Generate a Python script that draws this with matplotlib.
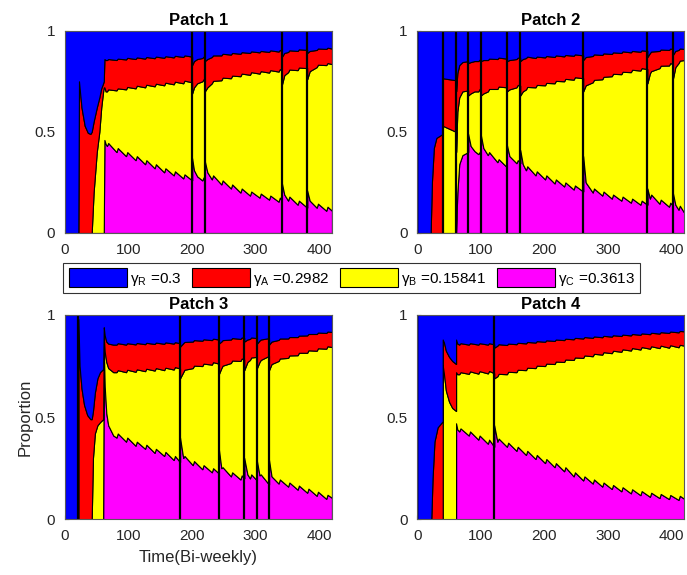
import matplotlib.pyplot as plt
import numpy as np
from matplotlib.patches import Patch
from matplotlib.ticker import FuncFormatter

plt.rcParams['font.family'] = ['Liberation Sans', 'DejaVu Sans']

# cumulative levels of the stacked areas
# c = C, cb = C+B, cba = C+B+A (R fills the rest up to 1)
p1_t = [0, 21, 22, 26, 31, 36, 40, 42, 45, 50, 54, 57, 60, 61, 62, 64, 66, 68, 81, 83,
        96, 98, 111, 113, 126, 128, 141, 143, 156, 158, 171, 173, 186, 188, 200, 200, 203, 208, 216, 218,
        220, 220, 224, 231, 233, 246, 248, 261, 263, 276, 278, 291, 293, 306, 308, 321, 323, 336, 338, 341,
        341, 345, 351, 353, 366, 368, 381, 381, 385, 396, 398, 411, 413, 420]
p1_c = [0, 0, 0, 0, 0, 0, 0, 0, 0, 0, 0, 0, 0, 0, 0.46, 0.44, 0.43, 0.445, 0.40, 0.42,
        0.38, 0.40, 0.36, 0.38, 0.34, 0.36, 0.32, 0.34, 0.30, 0.32, 0.285, 0.305, 0.27, 0.29, 0.26, 0.37, 0.31, 0.28, 0.26, 0.275,
        0.265, 0.355, 0.30, 0.265, 0.285, 0.24, 0.26, 0.22, 0.24, 0.20, 0.22, 0.185, 0.205, 0.175, 0.195, 0.165, 0.185, 0.155, 0.175, 0.16,
        0.25, 0.19, 0.16, 0.18, 0.14, 0.16, 0.125, 0.21, 0.16, 0.125, 0.145, 0.11, 0.13, 0.11]
p1_cb = [0, 0, 0, 0, 0, 0, 0, 0, 0.20, 0.40, 0.50, 0.62, 0.70, 0.72, 0.72, 0.70, 0.70, 0.71, 0.705, 0.715,
         0.71, 0.722, 0.715, 0.728, 0.72, 0.733, 0.725, 0.738, 0.73, 0.743, 0.735, 0.748, 0.74, 0.753, 0.745, 0.69, 0.72, 0.74, 0.75, 0.76,
         0.755, 0.70, 0.72, 0.74, 0.752, 0.755, 0.768, 0.765, 0.778, 0.775, 0.788, 0.782, 0.795, 0.788, 0.80, 0.793, 0.805, 0.798, 0.81, 0.805,
         0.73, 0.78, 0.795, 0.808, 0.805, 0.818, 0.815, 0.76, 0.80, 0.82, 0.832, 0.83, 0.84, 0.835]
p1_cba = [0, 0, 0.75, 0.62, 0.53, 0.495, 0.49, 0.50, 0.55, 0.62, 0.67, 0.715, 0.74, 0.75, 0.86, 0.855, 0.855, 0.86, 0.855, 0.862,
          0.858, 0.866, 0.86, 0.868, 0.862, 0.87, 0.864, 0.872, 0.866, 0.874, 0.868, 0.876, 0.87, 0.878, 0.872, 0.83, 0.85, 0.86, 0.865, 0.872,
          0.87, 0.85, 0.86, 0.87, 0.878, 0.878, 0.886, 0.882, 0.89, 0.886, 0.894, 0.89, 0.898, 0.893, 0.90, 0.895, 0.903, 0.897, 0.905, 0.90,
          0.87, 0.89, 0.895, 0.903, 0.90, 0.908, 0.905, 0.89, 0.90, 0.905, 0.912, 0.91, 0.916, 0.912]
p1_resets = [200, 220, 341, 381]

p2_t = [0, 21, 23, 26, 30, 40, 40, 61, 61, 63, 66, 71, 80, 80, 84, 90, 96, 98, 100, 100,
        104, 111, 113, 126, 128, 141, 141, 145, 156, 158, 162, 162, 166, 171, 173, 186, 188, 201, 203, 216,
        218, 231, 233, 246, 248, 261, 261, 265, 276, 278, 291, 293, 306, 308, 321, 323, 336, 338, 351, 353,
        362, 362, 366, 368, 381, 383, 396, 398, 402, 402, 406, 411, 413, 420]
p2_c = [0, 0, 0, 0, 0, 0, 0, 0, 0, 0.20, 0.34, 0.385, 0.40, 0.49, 0.43, 0.405, 0.39, 0.40, 0.395, 0.485,
        0.42, 0.385, 0.40, 0.35, 0.365, 0.325, 0.435, 0.38, 0.345, 0.36, 0.345, 0.41, 0.34, 0.31, 0.33, 0.285, 0.305, 0.265, 0.285, 0.245,
        0.265, 0.23, 0.25, 0.215, 0.235, 0.205, 0.38, 0.25, 0.20, 0.22, 0.185, 0.205, 0.17, 0.19, 0.16, 0.18, 0.15, 0.17, 0.14, 0.16,
        0.14, 0.22, 0.17, 0.19, 0.145, 0.165, 0.13, 0.15, 0.135, 0.20, 0.14, 0.115, 0.135, 0.10]
p2_cb = [0, 0, 0, 0, 0, 0, 0.53, 0.50, 0.40, 0.60, 0.67, 0.70, 0.705, 0.68, 0.69, 0.70, 0.70, 0.712, 0.71, 0.68,
         0.69, 0.70, 0.712, 0.712, 0.724, 0.72, 0.70, 0.71, 0.72, 0.732, 0.728, 0.68, 0.70, 0.71, 0.722, 0.72, 0.732, 0.73, 0.742, 0.74,
         0.752, 0.75, 0.762, 0.758, 0.77, 0.765, 0.70, 0.73, 0.745, 0.757, 0.76, 0.772, 0.775, 0.787, 0.785, 0.797, 0.795, 0.807, 0.803, 0.815,
         0.81, 0.74, 0.79, 0.80, 0.815, 0.827, 0.828, 0.84, 0.835, 0.76, 0.82, 0.84, 0.852, 0.855]
p2_cba = [0, 0, 0.25, 0.42, 0.47, 0.49, 0.765, 0.755, 0.70, 0.79, 0.83, 0.845, 0.85, 0.84, 0.845, 0.85, 0.85, 0.857, 0.855, 0.85,
          0.855, 0.855, 0.862, 0.86, 0.867, 0.862, 0.85, 0.855, 0.86, 0.867, 0.864, 0.85, 0.86, 0.865, 0.872, 0.865, 0.872, 0.868, 0.875, 0.87,
          0.878, 0.873, 0.88, 0.876, 0.883, 0.878, 0.855, 0.87, 0.875, 0.883, 0.88, 0.888, 0.885, 0.893, 0.89, 0.898, 0.893, 0.90, 0.896, 0.903,
          0.90, 0.87, 0.89, 0.897, 0.90, 0.907, 0.905, 0.912, 0.908, 0.88, 0.90, 0.905, 0.912, 0.91]
p2_resets = [40, 61, 80, 100, 141, 162, 261, 362, 402]

p3_t = [0, 21, 21, 23, 26, 30, 35, 40, 42, 44, 47, 51, 55, 60, 61, 62.5, 65, 68, 76, 81,
        83, 96, 98, 111, 113, 126, 128, 141, 143, 156, 158, 171, 173, 181, 181, 186, 188, 201, 203, 216,
        218, 231, 233, 242, 242, 246, 248, 261, 263, 276, 278, 282, 282, 287, 291, 293, 302, 302, 306, 308,
        321, 321, 325, 336, 338, 351, 353, 366, 368, 381, 383, 396, 398, 411, 413, 420]
p3_c = [0, 0, 0, 0, 0, 0, 0, 0, 0, 0, 0, 0, 0, 0, 0.85, 0.65, 0.52, 0.46, 0.41, 0.40,
        0.42, 0.38, 0.40, 0.36, 0.38, 0.345, 0.365, 0.325, 0.345, 0.31, 0.33, 0.29, 0.31, 0.28, 0.40, 0.30, 0.31, 0.265, 0.285, 0.245,
        0.265, 0.23, 0.25, 0.225, 0.345, 0.25, 0.255, 0.21, 0.23, 0.195, 0.215, 0.20, 0.30, 0.22, 0.20, 0.22, 0.19, 0.285, 0.215, 0.22,
        0.17, 0.29, 0.21, 0.175, 0.195, 0.16, 0.18, 0.145, 0.165, 0.13, 0.15, 0.115, 0.135, 0.10, 0.12, 0.105]
p3_cb = [0, 0, 0, 0, 0, 0, 0, 0, 0, 0.30, 0.42, 0.46, 0.475, 0.49, 0.90, 0.82, 0.77, 0.74, 0.72, 0.72,
         0.73, 0.72, 0.732, 0.722, 0.734, 0.725, 0.737, 0.728, 0.74, 0.73, 0.742, 0.733, 0.745, 0.738, 0.69, 0.72, 0.732, 0.74, 0.752, 0.75,
         0.762, 0.757, 0.769, 0.762, 0.71, 0.74, 0.752, 0.765, 0.777, 0.775, 0.787, 0.782, 0.73, 0.77, 0.78, 0.792, 0.795, 0.74, 0.77, 0.78,
         0.80, 0.73, 0.76, 0.775, 0.787, 0.79, 0.802, 0.803, 0.815, 0.815, 0.827, 0.825, 0.837, 0.835, 0.847, 0.843]
p3_cba = [0, 0, 0.98, 0.75, 0.64, 0.56, 0.51, 0.49, 0.49, 0.53, 0.62, 0.69, 0.72, 0.735, 0.94, 0.90, 0.87, 0.86, 0.855, 0.855,
          0.862, 0.855, 0.862, 0.856, 0.863, 0.857, 0.864, 0.858, 0.865, 0.859, 0.866, 0.86, 0.867, 0.862, 0.845, 0.862, 0.868, 0.87, 0.877, 0.874,
          0.881, 0.877, 0.884, 0.88, 0.86, 0.87, 0.877, 0.88, 0.887, 0.883, 0.89, 0.887, 0.87, 0.88, 0.883, 0.89, 0.887, 0.86, 0.875, 0.88,
          0.887, 0.855, 0.87, 0.878, 0.885, 0.885, 0.892, 0.892, 0.899, 0.90, 0.907, 0.907, 0.914, 0.912, 0.919, 0.917]
p3_resets = [21, 181, 242, 282, 302, 321]

p4_t = [0, 22, 24, 27, 32, 40, 40, 42, 45, 50, 55, 61, 61, 63, 66, 68, 81, 83, 96, 98,
        111, 113, 121, 121, 126, 128, 141, 143, 156, 158, 171, 173, 186, 188, 201, 203, 216, 218, 231, 233,
        246, 248, 261, 263, 276, 278, 291, 293, 306, 308, 321, 323, 336, 338, 351, 353, 366, 368, 381, 383,
        396, 398, 411, 413, 420]
p4_c = [0, 0, 0, 0, 0, 0, 0, 0, 0, 0, 0, 0, 0.47, 0.44, 0.43, 0.445, 0.41, 0.43, 0.39, 0.41,
        0.37, 0.39, 0.355, 0.46, 0.38, 0.395, 0.355, 0.375, 0.335, 0.355, 0.315, 0.335, 0.295, 0.315, 0.275, 0.295, 0.255, 0.275, 0.235, 0.255,
        0.21, 0.23, 0.19, 0.21, 0.175, 0.195, 0.16, 0.18, 0.148, 0.168, 0.137, 0.157, 0.127, 0.147, 0.118, 0.138, 0.11, 0.13, 0.104, 0.124,
        0.099, 0.119, 0.095, 0.115, 0.10]
p4_cb = [0, 0, 0, 0, 0, 0, 0.755, 0.71, 0.63, 0.575, 0.545, 0.53, 0.72, 0.71, 0.71, 0.72, 0.712, 0.724, 0.713, 0.725,
         0.714, 0.726, 0.715, 0.69, 0.70, 0.712, 0.71, 0.722, 0.72, 0.732, 0.73, 0.742, 0.74, 0.752, 0.75, 0.762, 0.76, 0.772, 0.77, 0.782,
         0.78, 0.792, 0.79, 0.802, 0.798, 0.81, 0.806, 0.818, 0.813, 0.825, 0.82, 0.832, 0.826, 0.838, 0.831, 0.843, 0.835, 0.847, 0.838, 0.85,
         0.84, 0.852, 0.842, 0.854, 0.85]
p4_cba = [0, 0, 0.20, 0.38, 0.45, 0.48, 0.88, 0.865, 0.825, 0.795, 0.775, 0.76, 0.88, 0.86, 0.855, 0.862, 0.855, 0.862, 0.855, 0.862,
          0.855, 0.862, 0.856, 0.84, 0.85, 0.857, 0.853, 0.86, 0.857, 0.864, 0.861, 0.868, 0.865, 0.872, 0.869, 0.876, 0.873, 0.88, 0.877, 0.884,
          0.881, 0.888, 0.885, 0.892, 0.888, 0.895, 0.891, 0.898, 0.894, 0.901, 0.897, 0.904, 0.90, 0.907, 0.903, 0.91, 0.906, 0.913, 0.909, 0.916,
          0.912, 0.919, 0.915, 0.922, 0.92]
p4_resets = [121]

titles = ['Patch 1', 'Patch 2', 'Patch 3', 'Patch 4']
legend_labels = ['$\\mathregular{γ_R}$ =0.3', '$\\mathregular{γ_A}$ =0.2982',
                 '$\\mathregular{γ_B}$ =0.15841', '$\\mathregular{γ_C}$ =0.3613']
# bottom to top: C, B, A, R
layer_colors = ['#ff00ff', '#ffff00', '#ff0000', '#0000ff']

panels = [
    (p1_t, p1_c, p1_cb, p1_cba, p1_resets),
    (p2_t, p2_c, p2_cb, p2_cba, p2_resets),
    (p3_t, p3_c, p3_cb, p3_cba, p3_resets),
    (p4_t, p4_c, p4_cb, p4_cba, p4_resets),
]
axes_rects = [
    [0.0946, 0.5948, 0.3886, 0.3518],
    [0.6074, 0.5948, 0.3886, 0.3518],
    [0.0946, 0.0969, 0.3886, 0.3553],
    [0.6074, 0.0969, 0.3886, 0.3553],
]

fig = plt.figure(figsize=(6.87, 5.75), dpi=100)
axes = []
for title, rect, (t, c, cb, cba, resets) in zip(titles, axes_rects, panels):
    ax = fig.add_axes(rect)
    t = np.asarray(t, dtype=float)
    levels = [np.zeros_like(t), np.asarray(c), np.asarray(cb), np.asarray(cba), np.ones_like(t)]
    for k, col in enumerate(layer_colors):
        ax.fill_between(t, levels[k], levels[k + 1], facecolor=col,
                        edgecolor='black', linewidth=0.8)
    ax.vlines(resets, 0, 1, colors='black', linewidth=1.6)

    ax.set_xlim(0, 420)
    ax.set_ylim(0, 1)
    ax.set_xticks(np.arange(0, 401, 100))
    ax.set_yticks([0, 0.5, 1])
    ax.yaxis.set_major_formatter(FuncFormatter(lambda v, _: f'{v:g}'))
    ax.set_axisbelow(True)
    ax.tick_params(direction='in', length=3, pad=7, labelsize=11, colors='0.15')
    for sp in ax.spines.values():
        sp.set_color('0.35')
        sp.set_linewidth(0.8)
    ax.set_title(title, fontsize=12, fontweight='bold', pad=4)
    axes.append(ax)

axes[2].set_ylabel('Proportion', fontsize=12, color='0.15', labelpad=1)
axes[2].set_xlabel('Time(Bi-weekly)', fontsize=12, color='0.15', labelpad=5)

handles = [Patch(facecolor=col, edgecolor='black', linewidth=0.8)
           for col in layer_colors[::-1]]
leg = fig.legend(handles, legend_labels, ncol=4, loc='center',
                 bbox_to_anchor=(0.512, 0.5165), fontsize=11, frameon=True,
                 fancybox=False, edgecolor='black', handlelength=3.8,
                 handleheight=1.45, handletextpad=0.2, columnspacing=0.7,
                 borderpad=0.35, borderaxespad=0)
leg.get_frame().set_linewidth(0.8)

fig.savefig('out.png', dpi=100)
